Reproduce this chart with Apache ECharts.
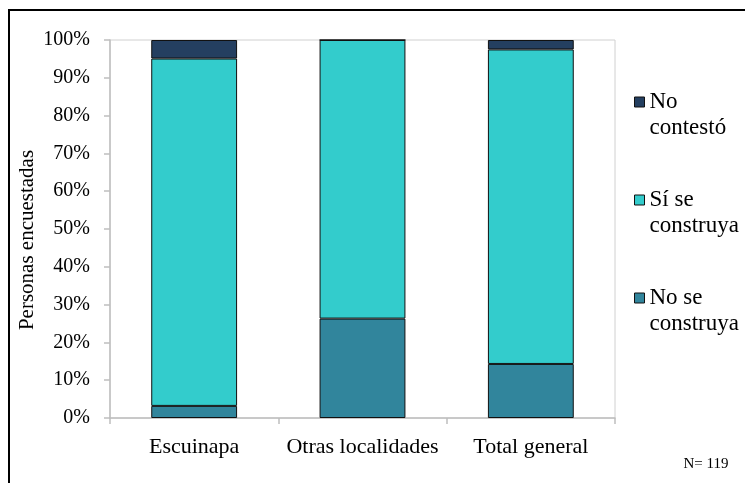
<!DOCTYPE html>
<html>
<head>
<meta charset="utf-8">
<script src="https://cdn.jsdelivr.net/npm/echarts@6/dist/echarts.min.js"></script>
<style>html,body{margin:0;padding:0;background:#fff;}#c{width:745px;height:483px;}</style>
</head>
<body>
<div id="c"></div>
<script>
const categories = ['Escuinapa', 'Otras localidades', 'Total general'];
const noSeConstruya = [3.2, 26.3, 14.3];
const siSeConstruya = [91.9, 73.7, 83.2];
const noContesto = [4.9, 0, 2.5];
const yTicks = [0, 10, 20, 30, 40, 50, 60, 70, 80, 90, 100];
const legendNames = {'No contestó': '\nNo\ncontestó', 'Sí se construya': '\nSí se\nconstruya', 'No se construya': '\nNo se\nconstruya'};

const font = 'Liberation Serif, Times New Roman, serif';
const chart = echarts.init(document.getElementById('c'), null, {renderer: 'canvas'});
const barStyle = c => ({color: c, borderColor: '#111', borderWidth: 1});
chart.setOption({
  animation: false,
  grid: {left: 110, right: 130, top: 40, bottom: 65, show: true, borderColor: '#d0d0d0', borderWidth: 1},
  xAxis: {
    type: 'category', data: categories,
    axisLine: {lineStyle: {color: '#bfbfbf', width: 1.5}},
    axisTick: {show: true, length: 6, lineStyle: {color: '#bfbfbf', width: 1.5}},
    axisLabel: {color: '#000', fontFamily: font, fontSize: 22, margin: 18, interval: 0}
  },
  yAxis: {
    type: 'value', min: yTicks[0], max: yTicks[yTicks.length - 1], interval: 10,
    axisLine: {show: true, lineStyle: {color: '#bfbfbf', width: 1.5}},
    axisTick: {show: true, length: 6, lineStyle: {color: '#bfbfbf', width: 1.5}},
    splitLine: {show: false},
    axisLabel: {color: '#000', fontFamily: font, fontSize: 20, margin: 20, formatter: v => v + '%'}
  },
  legend: {
    orient: 'vertical', left: 634, top: 63, padding: 0, itemGap: 20,
    itemWidth: 10, itemHeight: 10, itemStyle: {borderColor: '#111', borderWidth: 1},
    data: ['No contestó', 'Sí se construya', 'No se construya'],
    formatter: n => legendNames[n],
    textStyle: {color: '#000', fontFamily: font, fontSize: 23, lineHeight: 26},
    icon: 'rect'
  },
  series: [
    {name: 'No se construya', type: 'bar', stack: 's', data: noSeConstruya, barWidth: '51%', itemStyle: barStyle('#31859C')},
    {name: 'Sí se construya', type: 'bar', stack: 's', data: siSeConstruya, barWidth: '51%', itemStyle: barStyle('#33CCCC')},
    {name: 'No contestó', type: 'bar', stack: 's', data: noContesto, barWidth: '51%', itemStyle: barStyle('#243F60')}
  ],
  graphic: [
    {type: 'rect', shape: {x: 9, y: 10, width: 760, height: 500}, style: {fill: 'none', stroke: '#000', lineWidth: 2}, silent: true},
    {type: 'text', x: 27, y: 240, rotation: Math.PI / 2, style: {text: 'Personas encuestadas', font: '21px ' + font, fill: '#000', align: 'center', verticalAlign: 'middle'}},
    {type: 'text', x: 706, y: 464, style: {text: 'N= 119', font: '15px ' + font, fill: '#000', align: 'center', verticalAlign: 'middle'}}
  ]
});
</script>
</body>
</html>
